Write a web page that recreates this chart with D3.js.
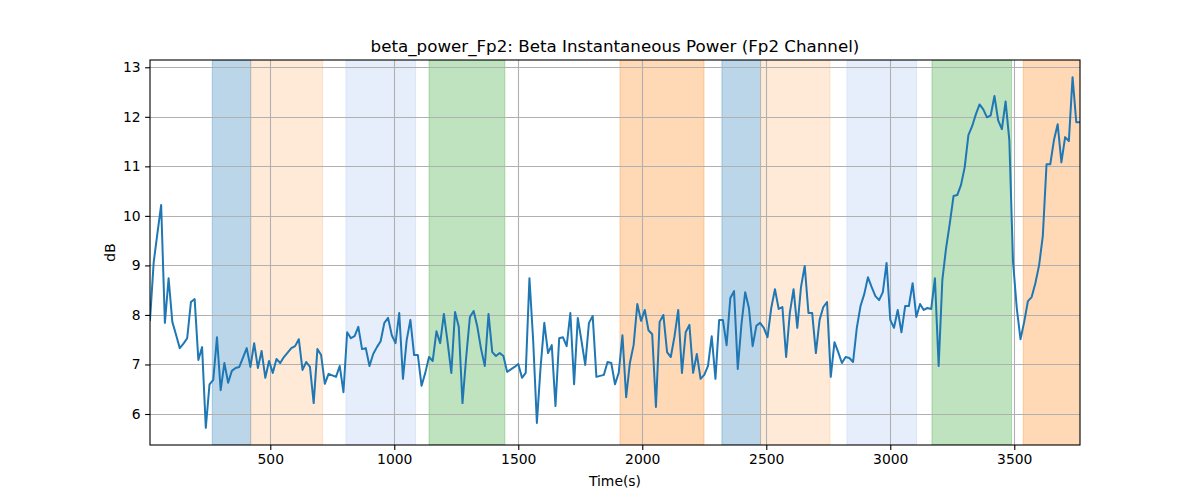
<!DOCTYPE html>
<html>
<head>
<meta charset="utf-8">
<script src="https://cdn.jsdelivr.net/npm/d3@7/dist/d3.min.js"></script>
<style>
  html, body { margin: 0; padding: 0; background: #fff; }
  svg { display: block; font-family: "DejaVu Sans", sans-serif; }
</style>
</head>
<body>
<svg id="chart" width="1200" height="500"></svg>
<script>
// ---- data ----
const times = [15,30,45,60,75,90,105,120,135,150,165,180,195,210,225,240,255,270,285,300,
315,330,345,360,375,390,405,420,435,450,465,480,495,510,525,540,555,570,585,600,
615,630,645,660,675,690,705,720,735,750,765,780,795,810,825,840,855,870,885,900,
915,930,945,960,975,990,1005,1020,1035,1050,1065,1080,1095,1110,1125,1140,1155,1170,1185,1200,
1215,1230,1245,1260,1275,1290,1305,1320,1335,1350,1365,1380,1395,1410,1425,1440,1455,1470,1485,1500,
1515,1530,1545,1560,1575,1590,1605,1620,1635,1650,1665,1680,1695,1710,1725,1740,1755,1770,1785,1800,
1815,1830,1845,1860,1875,1890,1905,1920,1935,1950,1965,1980,1995,2010,2025,2040,2055,2070,2085,2100,
2115,2130,2145,2160,2175,2190,2205,2220,2235,2250,2265,2280,2295,2310,2325,2340,2355,2370,2385,2400,
2415,2430,2445,2460,2475,2490,2505,2520,2535,2550,2565,2580,2595,2610,2625,2640,2655,2670,2685,2700,
2715,2730,2745,2760,2775,2790,2805,2820,2835,2850,2865,2880,2895,2910,2925,2940,2955,2970,2985,3000,
3015,3030,3045,3060,3075,3090,3105,3120,3135,3150,3165,3180,3195,3210,3225,3240,3255,3270,3285,3300,
3315,3330,3345,3360,3375,3390,3405,3420,3435,3450,3465,3480,3495,3510,3525,3540,3555,3570,3585,3600,
3615,3630,3645,3660,3675,3690,3705,3720,3735,3750,3765];

const powerDb = [7.9,9.07,9.65,10.22,7.84,8.74,7.86,7.6,7.33,7.42,7.53,8.26,8.32,7.09,7.35,5.72,6.6,6.69,7.55,6.48,
7.03,6.63,6.87,6.93,6.95,7.14,7.33,6.95,7.43,6.93,7.27,6.73,7.07,6.83,7.11,7.03,7.15,7.24,7.33,7.37,
7.51,6.89,7.05,6.95,6.22,7.31,7.19,6.61,6.81,6.78,6.75,6.97,6.44,7.65,7.53,7.57,7.76,7.31,7.33,6.97,
7.21,7.35,7.47,7.84,7.94,7.59,7.43,8.04,6.71,7.49,7.9,7.19,7.19,6.57,6.83,7.15,7.07,7.67,7.43,8.02,
7.45,6.83,8.06,7.76,6.22,7.15,7.96,8.08,7.76,7.31,6.97,8.02,7.25,7.17,7.23,7.17,6.85,6.9,6.95,7.01,
6.73,6.83,8.74,7.49,5.82,6.95,7.84,7.23,7.39,6.16,7.53,7.55,7.37,8.04,6.6,7.94,7.47,6.99,7.84,7.98,
6.75,6.77,6.79,7.05,7.03,6.6,6.83,7.59,6.34,7.03,7.39,8.22,7.88,8.1,7.69,7.61,6.14,7.86,8.0,7.25,
7.15,7.57,8.1,6.83,7.65,7.8,6.83,7.21,6.71,6.79,6.97,7.57,6.71,7.9,7.9,7.39,8.34,8.48,6.91,7.82,
8.46,8.14,7.37,7.78,7.84,7.74,7.55,8.14,8.52,8.12,8.16,7.15,8.04,8.52,7.74,8.56,8.99,8.04,8.04,7.23,
7.9,8.16,8.26,6.75,7.45,7.25,7.03,7.15,7.13,7.05,7.74,8.18,8.42,8.76,8.56,8.38,8.3,8.46,9.05,7.9,
7.74,8.1,7.65,8.18,8.18,8.64,7.96,8.22,8.1,8.14,8.12,8.74,6.97,8.71,9.35,9.85,10.4,10.42,10.62,10.98,
11.63,11.81,12.05,12.25,12.15,11.99,12.03,12.42,11.93,11.75,12.31,11.53,9.07,8.14,7.51,7.86,8.28,8.36,8.64,9.0,
9.59,11.04,11.04,11.53,11.85,11.08,11.59,11.51,12.8,11.89,11.89];

// shaded intervals (start, end, kind)
const bandStarts = [266, 421, 805, 1140, 1910, 2321, 2477, 2825, 3168, 3536];
const bandEnds   = [421, 711, 1086, 1446, 2249, 2477, 2757, 3106, 3489, 3800];
const bandKinds  = ["blue","peach","light","green","orange","blue","peach","light","green","orange"];

const xTicks = [500, 1000, 1500, 2000, 2500, 3000, 3500];
const yTicks = [6, 7, 8, 9, 10, 11, 12, 13];

const titleText = "beta_power_Fp2: Beta Instantaneous Power (Fp2 Channel)";
const xLabel = "Time(s)";
const yLabel = "dB";

// ---- styles ----
const bandColors = {
  blue:   "rgba(31,119,180,0.3)",
  peach:  "rgba(255,127,14,0.16)",
  light:  "rgba(100,149,237,0.16)",
  green:  "rgba(44,160,44,0.3)",
  orange: "rgba(255,127,14,0.3)"
};

const W = 1200, H = 500;
const m = { left: 150, right: 1080, top: 60, bottom: 445 };

const svg = d3.select("#chart");

const x = d3.scaleLinear().domain([15, 3765]).range([m.left, m.right]);
const y = d3.scaleLinear().domain([5.374, 13.147]).range([m.bottom, m.top]);

const clip = svg.append("defs").append("clipPath").attr("id", "plotclip")
  .append("rect").attr("x", m.left).attr("y", m.top)
  .attr("width", m.right - m.left).attr("height", m.bottom - m.top);

const plot = svg.append("g").attr("clip-path", "url(#plotclip)");

// bands
const bands = bandStarts.map((s, i) => ({ s, e: bandEnds[i], k: bandKinds[i] }));
plot.selectAll("rect.band").data(bands).join("rect")
  .attr("class", "band")
  .attr("x", d => x(d.s))
  .attr("width", d => x(d.e) - x(d.s))
  .attr("y", m.top)
  .attr("height", m.bottom - m.top)
  .attr("fill", d => bandColors[d.k])
  .attr("stroke", d => bandColors[d.k])
  .attr("stroke-width", 1);

// grid
const grid = plot.append("g");
grid.selectAll("line.gx").data(xTicks).join("line")
  .attr("x1", d => Math.round(x(d)) + 0.5).attr("x2", d => Math.round(x(d)) + 0.5)
  .attr("y1", m.top).attr("y2", m.bottom)
  .attr("stroke", "#b0b0b0").attr("stroke-width", 1.1);
grid.selectAll("line.gy").data(yTicks).join("line")
  .attr("y1", d => Math.round(y(d)) + 0.5).attr("y2", d => Math.round(y(d)) + 0.5)
  .attr("x1", m.left).attr("x2", m.right)
  .attr("stroke", "#b0b0b0").attr("stroke-width", 1.1);

// line
const line = d3.line().x((d, i) => x(times[i])).y(d => y(d));
plot.append("path").datum(powerDb)
  .attr("d", line)
  .attr("fill", "none")
  .attr("stroke", "#1f77b4")
  .attr("stroke-width", 2)
  .attr("stroke-linejoin", "round")
  .attr("stroke-linecap", "square");

// axes
const xAxis = d3.axisBottom(x).tickValues(xTicks).tickSize(4.9).tickPadding(4.5).tickFormat(d3.format("d"));
const yAxis = d3.axisLeft(y).tickValues(yTicks).tickSize(4.9).tickPadding(4.5).tickFormat(d3.format("d"));

const gx = svg.append("g").attr("transform", `translate(0,${m.bottom})`).call(xAxis);
const gy = svg.append("g").attr("transform", `translate(${m.left},0)`).call(yAxis);
[gx, gy].forEach(g => {
  g.select(".domain").remove();
  g.selectAll("text").attr("font-family", "DejaVu Sans, sans-serif").attr("font-size", "13.9px").attr("fill", "#000");
  g.selectAll("line").attr("stroke", "#000").attr("stroke-width", 1.1);
});

// frame
svg.append("rect").attr("x", m.left).attr("y", m.top)
  .attr("width", m.right - m.left).attr("height", m.bottom - m.top)
  .attr("fill", "none").attr("stroke", "#000").attr("stroke-width", 1.1);

// labels
svg.append("text").attr("x", (m.left + m.right) / 2).attr("y", 52)
  .attr("text-anchor", "middle").attr("font-size", "16.7px").attr("fill", "#000")
  .text(titleText);
svg.append("text").attr("x", (m.left + m.right) / 2).attr("y", 486)
  .attr("text-anchor", "middle").attr("font-size", "13.9px").attr("fill", "#000")
  .text(xLabel);
svg.append("text").attr("transform", `translate(115,${(m.top + m.bottom) / 2}) rotate(-90)`)
  .attr("text-anchor", "middle").attr("font-size", "13.9px").attr("fill", "#000")
  .text(yLabel);
</script>
</body>
</html>
